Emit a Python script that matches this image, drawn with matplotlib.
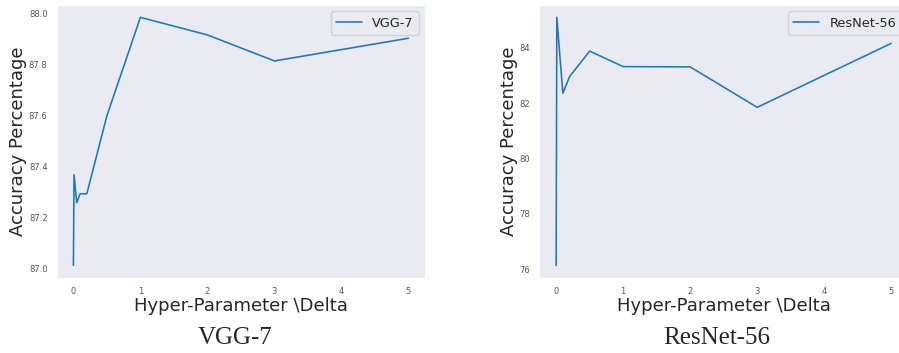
import matplotlib
matplotlib.use("Agg")
import matplotlib.pyplot as plt
import seaborn as sns

sns.set_style("dark")

# hyper-parameter values and accuracies
delta_vgg = [0, 0.01, 0.05, 0.1, 0.2, 0.5, 1, 2, 3, 5]
acc_vgg = [87.013, 87.369, 87.259, 87.294, 87.294, 87.60, 87.986, 87.917, 87.815, 87.904]

delta_resnet = [0, 0.01, 0.1, 0.2, 0.5, 1, 2, 3, 5]
acc_resnet = [76.14, 85.10, 82.36, 82.96, 83.88, 83.32, 83.31, 81.85, 84.16]

fig = plt.figure(figsize=(8.99, 3.53), dpi=100)
ax1 = fig.add_axes([0.063, 0.213, 0.410, 0.773])
ax2 = fig.add_axes([0.600, 0.213, 0.410, 0.773])

panels = [
    (ax1, delta_vgg, acc_vgg, "VGG-7"),
    (ax2, delta_resnet, acc_resnet, "ResNet-56"),
]
for ax, x, y, name in panels:
    ax.plot(x, y, color="#1f77b4", lw=1.15, label=name)
    ax.set_xlabel("Hyper-Parameter \\Delta", fontsize=13, labelpad=1)
    ax.set_ylabel("Accuracy Percentage", fontsize=13, labelpad=1.5)
    ax.tick_params(labelsize=6, colors="#555555", pad=3)
    ax.legend(loc="upper right", fontsize=9.3)
    ax.set_xticks([0, 1, 2, 3, 4, 5])

ax2.set_yticks([76, 78, 80, 82, 84])

fig.text(0.262, 0.042, "VGG-7", family="Liberation Serif", fontsize=18, ha="center", va="center")
fig.text(0.797, 0.042, "ResNet-56", family="Liberation Serif", fontsize=18, ha="center", va="center")

fig.savefig("out.png", dpi=100)
